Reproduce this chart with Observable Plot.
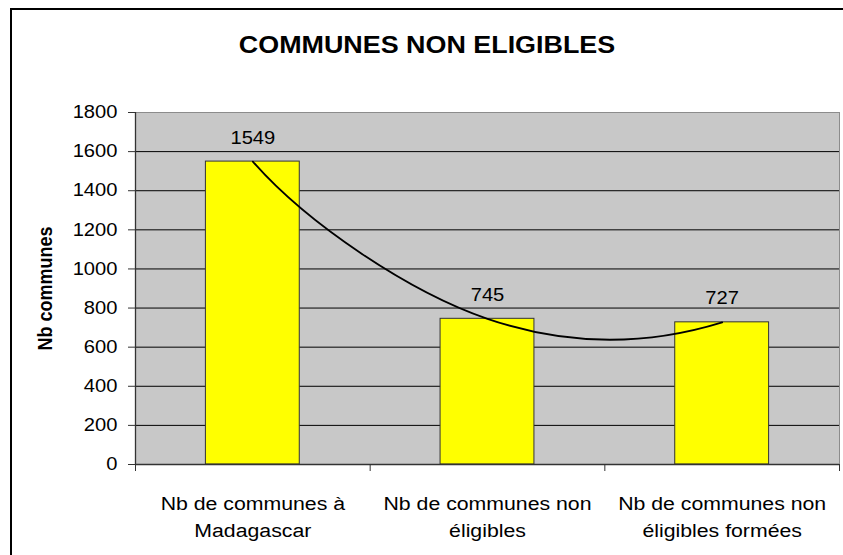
<!DOCTYPE html>
<html>
<head>
<meta charset="utf-8">
<script src="https://cdn.jsdelivr.net/npm/d3@7"></script>
<script src="https://cdn.jsdelivr.net/npm/@observablehq/plot@0.6"></script>
<style>
html, body { margin: 0; padding: 0; background: #fff; }
#wrap { position: relative; width: 843px; height: 555px; overflow: hidden; font-family: "Liberation Sans", Arial, sans-serif; }
#border { position: absolute; left: 10px; top: 8px; width: 900px; height: 700px; border-left: 2px solid #000; border-top: 2px solid #000; box-sizing: border-box; }
#title { position: absolute; left: 0; top: 33px; width: 843px; text-align: center; font-weight: bold; font-size: 24px; line-height: 24px; padding-left: 11px; box-sizing: border-box; }
#title span { display: inline-block; transform: scaleX(1.12); }
#chart { position: absolute; left: 0; top: 0; }
</style>
</head>
<body>
<div id="wrap">
  <div id="border"></div>
  <div id="title"><span></span></div>
  <div id="chart"></div>
</div>
<script>
const title = "COMMUNES NON ELIGIBLES";
const yLabel = "Nb communes";
const categories = ["Nb de communes à\nMadagascar", "Nb de communes non\néligibles", "Nb de communes non\néligibles formées"];
const values = [1549, 745, 727];
const yTicks = [0, 200, 400, 600, 800, 1000, 1200, 1400, 1600, 1800];

document.querySelector("#title span").textContent = title;

const data = categories.map((c, i) => ({i, c, v: values[i]}));
const gridTicks = yTicks.filter(d => d > 0 && d < 1800);

// Excel-style smoothed line: Catmull-Rom tangents inside, tangents at the ends reflected about the end chord
function ExcelSmooth(context) { this._context = context; }
ExcelSmooth.prototype = {
  areaStart() { this._line = 0; },
  areaEnd() { this._line = NaN; },
  lineStart() { this._pts = []; },
  point(x, y) { this._pts.push([+x, +y]); },
  lineEnd() {
    const p = this._pts, n = p.length, ctx = this._context;
    if (!n) return;
    if (this._line) ctx.lineTo(p[0][0], p[0][1]); else ctx.moveTo(p[0][0], p[0][1]);
    if (n === 2) { ctx.lineTo(p[1][0], p[1][1]); }
    else if (n > 2) {
      const m = new Array(n);
      for (let i = 1; i < n - 1; i++) m[i] = [(p[i + 1][0] - p[i - 1][0]) / 2, (p[i + 1][1] - p[i - 1][1]) / 2];
      const reflect = (v, a, b) => {
        const dx = b[0] - a[0], dy = b[1] - a[1], L = Math.hypot(dx, dy) || 1;
        const ux = dx / L, uy = dy / L, d = v[0] * ux + v[1] * uy;
        return [2 * d * ux - v[0], 2 * d * uy - v[1]];
      };
      m[0] = reflect(m[1], p[0], p[1]);
      m[n - 1] = reflect(m[n - 2], p[n - 2], p[n - 1]);
      for (let i = 0; i < n - 1; i++) {
        ctx.bezierCurveTo(
          p[i][0] + m[i][0] / 3, p[i][1] + m[i][1] / 3,
          p[i + 1][0] - m[i + 1][0] / 3, p[i + 1][1] - m[i + 1][1] / 3,
          p[i + 1][0], p[i + 1][1]);
      }
    }
    this._line = 1 - this._line;
  }
};
const curveExcel = context => new ExcelSmooth(context);

const chart = Plot.plot({
  width: 843,
  height: 555,
  marginLeft: 135,
  marginRight: 4,
  marginTop: 112,
  marginBottom: 91,
  style: {fontFamily: "'Liberation Sans', Arial, sans-serif", fontSize: "18px", color: "#000", background: "transparent", overflow: "visible"},
  x: {type: "linear", domain: [0, categories.length]},
  y: {domain: [0, 1800]},
  marks: [
    Plot.frame({fill: "#c8c8c8", stroke: "#8c8c8c"}),
    Plot.ruleY(gridTicks, {stroke: "#000", strokeWidth: 1}),
    Plot.rectY(data, {x1: d => d.i + 0.3, x2: d => d.i + 0.7, y1: 0, y2: "v", fill: "#ffff00", stroke: "#333", strokeWidth: 1}),
    Plot.line(data, {x: d => d.i + 0.5, y: "v", curve: curveExcel, stroke: "#000", strokeWidth: 1.8}),
    Plot.text(data, {x: d => d.i + 0.5, y: "v", text: d => String(d.v), lineAnchor: "bottom", dy: -18, fontSize: 18}),
    Plot.ruleX([0], {stroke: "#333", strokeWidth: 1.3}),
    Plot.ruleY([0], {stroke: "#333", strokeWidth: 1.3}),
    Plot.axisY({ticks: yTicks, tickSize: 7, tickPadding: 11, tickFormat: d => String(d), label: null, fontSize: 18, stroke: "#333"}),
    Plot.axisX({ticks: [0, 1, 2, 3], tickSize: 7, tickFormat: () => "", label: null, stroke: "#333"}),
    Plot.text(data, {x: d => d.i + 0.5, y: 0, text: "c", lineAnchor: "top", dy: 26, fontSize: 19, lineHeight: 1.42}),
    Plot.text([yLabel], {frameAnchor: "left", textAnchor: "middle", dx: -90, rotate: -90, fontWeight: "bold", fontSize: 18})
  ]
});

chart.querySelectorAll("text").forEach(t => {
  const tr = t.getAttribute("transform");
  if (tr && /^translate\([^)]*\)/.test(tr)) {
    t.setAttribute("transform", tr.replace(/^(translate\([^)]*\))/, "$1 scale(1.12,1)"));
  }
});

document.getElementById("chart").appendChild(chart);
</script>
</body>
</html>
